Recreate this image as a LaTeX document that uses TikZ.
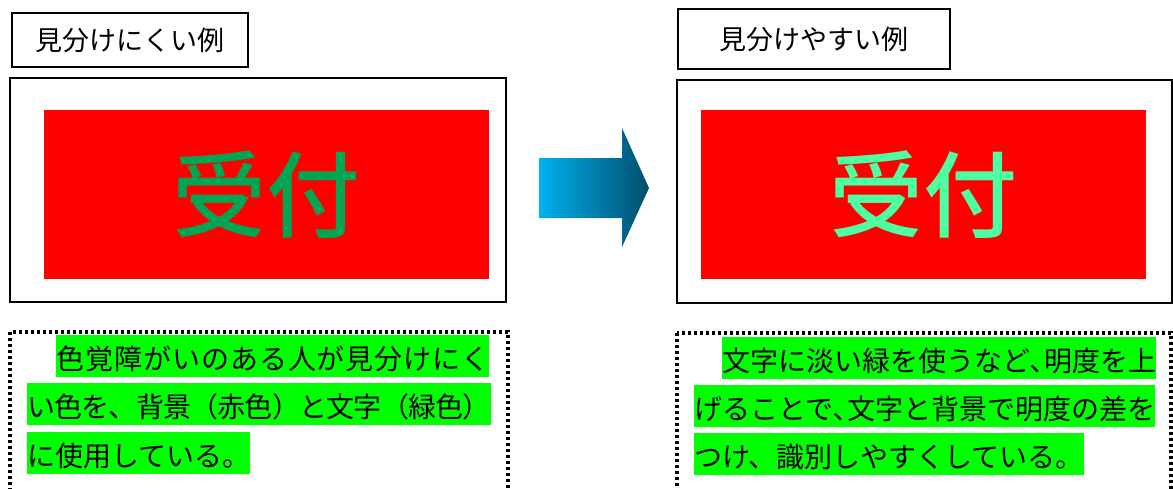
\documentclass[tikz,border=0pt]{standalone}
\usepackage{fontspec}
\setmainfont{Noto Sans CJK JP}
\newfontfamily\panelfont{Noto Sans CJK JP Medium}
\definecolor{lettergreen}{RGB}{0,166,81}
\definecolor{palegreen}{RGB}{77,255,160}
\definecolor{markgreen}{RGB}{0,255,0}
\definecolor{arrowcyan}{RGB}{0,176,240}
\definecolor{arrowdark}{RGB}{0,78,108}

\begin{document}
\begin{tikzpicture}[x=1pt,y=-1pt,
    titlebox/.style={draw,line width=1.5pt,inner sep=0pt,font=\fontsize{27}{27}\selectfont},
    framebox/.style={draw,line width=2pt,inner sep=0pt},
    redpanel/.style={fill=red,inner sep=0pt,minimum width=445pt,minimum height=169pt,font=\panelfont\fontsize{94}{94}\selectfont},
    hiline/.style={fill=markgreen,inner sep=0pt,anchor=base west,text height=34pt,text depth=8pt,font=\fontsize{28}{28}\selectfont},
    dotbox/.style={line width=3.2pt,dash pattern=on 3pt off 3pt}]
      % \draw[help lines](0,0) grid (1173,488);
      \useasboundingbox (0,0) rectangle (1173,488);

      \draw (130,40) node[titlebox,minimum width=236pt,minimum height=54pt] (hardtitle) {見分けにくい例};
      \draw (814,39) node[titlebox,minimum width=272pt,minimum height=60pt] (easytitle) {見分けやすい例};

      \draw (258,190) node[framebox,minimum width=496pt,minimum height=224pt] (hardframe) {};
      \draw (924.5,191.5) node[framebox,minimum width=495pt,minimum height=223pt] (easyframe) {};

      \draw (266.5,194.5) node[redpanel,text=lettergreen] (hardpanel) {受付};
      \draw (923.5,194.5) node[redpanel,text=palegreen] (easypanel) {受付};

      \shade[left color=arrowcyan,right color=arrowdark] (539,158) -- (622,158) -- (622,128) -- (649,188) -- (622,247) -- (622,218) -- (539,218) -- cycle;

      \draw[dotbox] (10,332) rectangle (508,500);
      \draw[dotbox] (677,333) rectangle (1171,500);

      \draw (56,369) node[hiline] (hardnote1) {\addfontfeature{LetterSpace=3.5}色覚障がいのある人が見分けにく};
      \draw (27,417) node[hiline] (hardnote2) {\addfontfeature{LetterSpace=-2.8}い色を、背景（赤色）と文字（緑色）};
      \draw (27,466) node[hiline] (hardnote3) {に使用している。};

      \draw (722,371) node[hiline] (easynote1) {文字に淡い緑を使うなど､明度を上};
      \draw (694,419) node[hiline] (easynote2) {げることで､文字と背景で明度の差を};
      \draw (694,467) node[hiline] (easynote3) {つけ、識別しやすくしている。};
\end{tikzpicture}
\end{document}
